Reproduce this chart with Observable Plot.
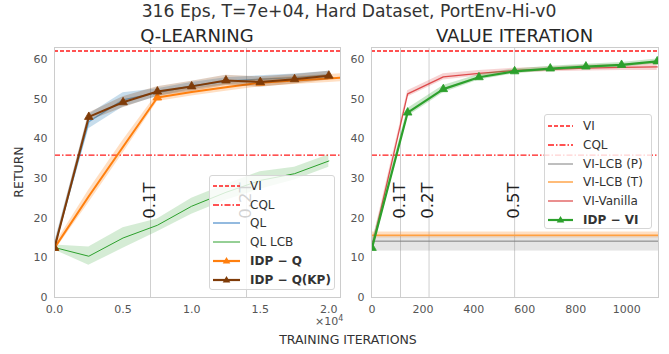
<!DOCTYPE html>
<html><head><meta charset="utf-8">
<script src="https://cdn.jsdelivr.net/npm/d3@7"></script>
<script src="https://cdn.jsdelivr.net/npm/@observablehq/plot@0.6"></script>
<style>
body{margin:0;background:#fff;font-family:"DejaVu Sans",sans-serif;}
#fig{position:relative;width:669px;height:354px;overflow:hidden;background:#fff;}
.abs{position:absolute;white-space:nowrap;}
.legend{position:absolute;background:rgba(255,255,255,0.8);border:1px solid #d6d6d6;border-radius:3px;box-sizing:border-box;}
.lrow{position:absolute;left:0;height:16px;display:flex;align-items:center;font-size:12px;color:#333;}
.lrow svg{display:block;}
.lrow span{margin-left:10px;}
</style></head><body><div id="fig"></div>
<script>
// ---------- data ----------
const TITLE = "316 Eps, T=7e+04, Hard Dataset, PortEnv-Hi-v0";
const T_Q = 7e4;
const T_VI = 1120;
const VI_RETURN = 62.1;
const CQL_RETURN = 35.9;

const qIters = [0, 2500, 5000, 7500, 10000, 12500, 15000, 17500, 20000];
const qlMean = [12.8, 44.3, 49.8, 51.6, 53.3, 54.5, 55.0, 55.4, 56.1];
const qlSpread = [1.0, 1.8, 1.8, 1.0, 0.9, 0.9, 0.9, 0.9, 0.9];
const qlLcbMean = [12.6, 10.4, 15.0, 18.2, 23.0, 26.5, 29.5, 31.2, 34.4];
const qlLcbSpread = [0.6, 2.3, 2.6, 1.6, 2.0, 2.0, 2.2, 1.6, 1.6];
const kpMean = [12.5, 45.5, 49.2, 51.9, 53.2, 54.7, 54.3, 55.0, 55.9];
const kpSpread = [0.8, 1.0, 1.4, 1.2, 1.3, 1.3, 1.3, 1.2, 1.1];
const idpQIters = [0, 2500, 5000, 7500, 10000, 12500, 15000, 17500, 20000, 22500];
const idpQMean = [12.5, 25.5, 38.0, 50.4, 51.8, 53.0, 54.1, 54.7, 55.2, 55.7];
const idpQSpread = [0.8, 1.6, 1.6, 1.0, 1.0, 1.0, 1.0, 1.0, 1.0, 1.0];

const viIters = [0, 140, 280, 420, 560, 700, 840, 980, 1120];
const idpViMean = [12.5, 46.6, 52.5, 55.5, 57.0, 57.7, 58.2, 58.6, 59.5];
const idpViSpread = [1.5, 1.0, 0.9, 0.7, 0.6, 0.6, 0.6, 0.6, 0.6];
const vanillaMean = [12.5, 51.3, 55.6, 56.5, 57.2, 57.5, 57.8, 58.0, 58.1];
const vanillaSpread = [1.2, 0.8, 0.8, 0.7, 0.6, 0.6, 0.7, 0.8, 0.9];
const lcbPMean = 14.2, lcbPLow = 11.7, lcbPHigh = 15.5;
const lcbTMean = 15.7, lcbTLow = 15.0, lcbTHigh = 16.5;

const qMarkFractions = [0.1, 0.2];
const viMarkFractions = [0.1, 0.2, 0.5];
const xTicksQ = [0, 5000, 10000, 15000, 20000];
const xTicksVI = [0, 200, 400, 600, 800, 1000];
const yTicks = [0, 10, 20, 30, 40, 50, 60];

const legendQ = [
  {label: "VI", color: "#ff1a1a", dash: "4,2", w: 1.5},
  {label: "CQL", color: "#ff1a1a", dash: "6,2,1.5,2", w: 1.5},
  {label: "QL", color: "#6fa3d4", w: 1.5},
  {label: "QL LCB", color: "#2ca02c", w: 1},
  {label: "IDP \u2212 Q", color: "#ff7f0e", w: 2.2, marker: true, bold: true},
  {label: "IDP \u2212 Q(KP)", color: "#7f3b08", w: 2.2, marker: true, bold: true}
];
const legendVI = [
  {label: "VI", color: "#ff1a1a", dash: "4,2", w: 1.5},
  {label: "CQL", color: "#ff1a1a", dash: "6,2,1.5,2", w: 1.5},
  {label: "VI-LCB (P)", color: "#7f7f7f", w: 1},
  {label: "VI-LCB (T)", color: "#ffa64d", w: 1.5},
  {label: "VI-Vanilla", color: "#e36a6a", w: 1.5},
  {label: "IDP \u2212 VI", color: "#2ca02c", w: 2.2, marker: true, bold: true}
];

// ---------- helpers ----------
const rows = (xs, mean, spread) => xs.map((x, i) => ({x, y: mean[i], lo: mean[i] - spread[i], hi: mean[i] + spread[i], i}));
const fig = document.getElementById("fig");
const FONT = "DejaVu Sans";

function series(data, color, width, bandOpacity, markerEvery, lineOpacity = 1) {
  const m = [
    Plot.areaY(data, {x: "x", y1: "lo", y2: "hi", fill: color, fillOpacity: bandOpacity, clip: true}),
    Plot.line(data, {x: "x", y: "y", stroke: color, strokeWidth: width, strokeOpacity: lineOpacity, clip: true})
  ];
  if (markerEvery) m.push(Plot.dot(data.filter(d => d.i % markerEvery === 0), {x: "x", y: "y", symbol: "triangle", r: 3.2, fill: color, stroke: color, strokeWidth: 0.8, clip: true}));
  return m;
}
function refMarks(fracs, T) {
  return [
    Plot.ruleX(fracs, {x: d => d * T, stroke: "#cfcfcf", strokeWidth: 1})
  ];
}
function refText(fracs, T) {
  return Plot.text(fracs, {x: d => d * T, frameAnchor: "middle", dy: 28, dx: -1, text: d => d + "T", rotate: -90, fontSize: 16.5, fill: "#222", fontFamily: FONT});
}
const baseRules = [
  Plot.ruleY([VI_RETURN], {stroke: "#ff1a1a", strokeWidth: 1.5, strokeDasharray: "4,2"}),
  Plot.ruleY([CQL_RETURN], {stroke: "#ff1a1a", strokeWidth: 1.3, strokeDasharray: "6,2,1.5,2"})
];
const style = {fontFamily: FONT, fontSize: "11px", color: "#555", background: "transparent", overflow: "visible"};

// ---------- left panel ----------
const left = Plot.plot({
  width: 345, height: 330, marginLeft: 54, marginRight: 5, marginTop: 47, marginBottom: 33,
  style,
  x: {domain: [0, 20850], ticks: xTicksQ, tickFormat: d => (d / 1e4).toFixed(1), tickSize: 0, tickPadding: 8, label: null},
  y: {domain: [0, 63], ticks: yTicks, tickSize: 0, tickPadding: 7, label: null},
  marks: [
    ...refMarks(qMarkFractions, T_Q),
    ...baseRules,
    ...series(rows(qIters, qlMean, qlSpread), "#1f77b4", 1.3, 0.25, 0, 0.6),
    ...series(rows(qIters, qlLcbMean, qlLcbSpread), "#2ca02c", 1, 0.2, 0),
    ...series(rows(idpQIters, idpQMean, idpQSpread), "#ff7f0e", 2, 0.25, 3),
    ...series(rows(qIters, kpMean, kpSpread), "#7f3b08", 2, 0.25, 1),
    refText(qMarkFractions, T_Q),
    Plot.frame({stroke: "#cccccc"})
  ]
});
left.style.position = "absolute"; left.style.left = "0px"; left.style.top = "0px";
fig.appendChild(left);

// ---------- right panel ----------
const right = Plot.plot({
  width: 324, height: 330, marginLeft: 26, marginRight: 11, marginTop: 47, marginBottom: 33,
  style,
  x: {domain: [-2, 1125], ticks: xTicksVI, tickFormat: d3.format("d"), tickSize: 0, tickPadding: 8, label: null},
  y: {domain: [0, 63], ticks: yTicks, tickSize: 0, tickPadding: 7, label: null},
  marks: [
    ...refMarks(viMarkFractions, T_VI),
    ...baseRules,
    Plot.rect([{lo: lcbPLow, hi: lcbPHigh}], {y1: "lo", y2: "hi", fill: "#7f7f7f", fillOpacity: 0.2}),
    Plot.ruleY([lcbPMean], {stroke: "#7f7f7f", strokeWidth: 1}),
    Plot.rect([{lo: lcbTLow, hi: lcbTHigh}], {y1: "lo", y2: "hi", fill: "#ff7f0e", fillOpacity: 0.25}),
    Plot.ruleY([lcbTMean], {stroke: "#ffa040", strokeWidth: 1.5}),
    ...series(rows(viIters, vanillaMean, vanillaSpread), "#d62728", 1.3, 0.2, 0, 0.8),
    ...series(rows(viIters, idpViMean, idpViSpread), "#2ca02c", 2.2, 0.25, 1),
    refText(viMarkFractions, T_VI),
    Plot.frame({stroke: "#cccccc"})
  ]
});
right.style.position = "absolute"; right.style.left = "345px"; right.style.top = "0px";
fig.appendChild(right);

// ---------- text ----------
function addText(txt, css) {
  const d = document.createElement("div");
  d.className = "abs"; d.textContent = txt;
  Object.assign(d.style, css);
  fig.appendChild(d);
  return d;
}
addText(TITLE, {left: "49px", width: "600px", textAlign: "center", top: "1px", fontSize: "17.2px", color: "#333"});
addText("Q-LEARNING", {left: "54px", width: "286px", textAlign: "center", top: "25px", fontSize: "18px", color: "#262626"});
addText("VALUE ITERATION", {left: "371px", width: "287px", textAlign: "center", top: "25px", fontSize: "18px", color: "#262626"});
addText("TRAINING ITERATIONS", {left: "148px", width: "400px", textAlign: "center", top: "332px", fontSize: "12.5px", color: "#333"});
addText("RETURN", {left: "18px", top: "172px", fontSize: "12.5px", color: "#333", transform: "translate(-50%,-50%) rotate(-90deg)"});
const sci = addText("", {left: "315px", top: "314px", fontSize: "11px", color: "#555"});
sci.innerHTML = "\u00d710<sup style='font-size:8px;vertical-align:4px'>4</sup>";

// ---------- legends ----------
function legend(items, box, swW, rowY) {
  const L = document.createElement("div");
  L.className = "legend";
  Object.assign(L.style, {left: box[0] + "px", top: box[1] + "px", width: box[2] + "px", height: box[3] + "px"});
  items.forEach((it, k) => {
    const r = document.createElement("div");
    r.className = "lrow";
    r.style.top = (rowY[k] - box[1] - 8) + "px";
    r.style.left = "3px";
    const tri = it.marker ? `<path d="M${swW/2},${8-4} L${swW/2+3.8},${8+2.5} L${swW/2-3.8},${8+2.5} Z" fill="${it.color}"/>` : "";
    r.innerHTML = `<svg width="${swW}" height="16"><line x1="0" x2="${swW}" y1="8" y2="8" stroke="${it.color}" stroke-width="${it.w}" ${it.dash ? `stroke-dasharray="${it.dash}"` : ""}/>${tri}</svg><span style="font-weight:${it.bold ? "bold" : "normal"}">${it.label}</span>`;
    L.appendChild(r);
  });
  fig.appendChild(L);
}
legend(legendQ, [209, 175, 126, 115], 27, [185, 203.5, 222, 241, 260, 279]);
legend(legendVI, [544, 114, 108, 115], 25, [125, 143.7, 162.7, 181, 200, 218.5]);
</script></body></html>
